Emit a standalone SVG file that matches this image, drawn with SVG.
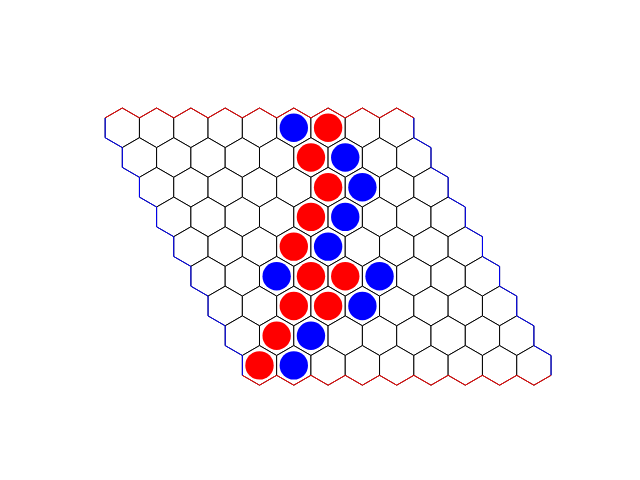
<svg xmlns="http://www.w3.org/2000/svg" xmlns:xlink="http://www.w3.org/1999/xlink" width="640" height="480" viewBox="0 0 640 480">
<style>
.hx{fill:#fff;stroke:#000;stroke-width:1}
.r{fill:#ff0000}
.b{fill:#0000ff}
.er{fill:none;stroke:#ff0000;stroke-width:1}
.eb{fill:none;stroke:#0000ff;stroke-width:1}
</style>
<defs>
<polygon id="h" class="hx" points="0,-19.8 17.15,-9.9 17.15,9.9 0,19.8 -17.15,9.9 -17.15,-9.9"/>
</defs>
<rect width="640" height="480" fill="#fff"/>
<g id="board">
<g id="row0" transform="translate(122.3,127.8)">
<g id="r0c0"><use href="#h" x="0"/></g><g id="r0c1"><use href="#h" x="34.3"/></g><g id="r0c2"><use href="#h" x="68.6"/></g><g id="r0c3"><use href="#h" x="102.9"/></g><g id="r0c4"><use href="#h" x="137.2"/></g><g id="r0c5"><use href="#h" x="171.5"/><circle class="b" cx="171.5" cy="0" r="14.2"/></g><g id="r0c6"><use href="#h" x="205.8"/><circle class="r" cx="205.8" cy="0" r="14.2"/></g><g id="r0c7"><use href="#h" x="240.1"/></g><g id="r0c8"><use href="#h" x="274.4"/></g>
</g>
<g id="row1" transform="translate(139.45,157.5)">
<g id="r1c0"><use href="#h" x="0"/></g><g id="r1c1"><use href="#h" x="34.3"/></g><g id="r1c2"><use href="#h" x="68.6"/></g><g id="r1c3"><use href="#h" x="102.9"/></g><g id="r1c4"><use href="#h" x="137.2"/></g><g id="r1c5"><use href="#h" x="171.5"/><circle class="r" cx="171.5" cy="0" r="14.2"/></g><g id="r1c6"><use href="#h" x="205.8"/><circle class="b" cx="205.8" cy="0" r="14.2"/></g><g id="r1c7"><use href="#h" x="240.1"/></g><g id="r1c8"><use href="#h" x="274.4"/></g>
</g>
<g id="row2" transform="translate(156.6,187.2)">
<g id="r2c0"><use href="#h" x="0"/></g><g id="r2c1"><use href="#h" x="34.3"/></g><g id="r2c2"><use href="#h" x="68.6"/></g><g id="r2c3"><use href="#h" x="102.9"/></g><g id="r2c4"><use href="#h" x="137.2"/></g><g id="r2c5"><use href="#h" x="171.5"/><circle class="r" cx="171.5" cy="0" r="14.2"/></g><g id="r2c6"><use href="#h" x="205.8"/><circle class="b" cx="205.8" cy="0" r="14.2"/></g><g id="r2c7"><use href="#h" x="240.1"/></g><g id="r2c8"><use href="#h" x="274.4"/></g>
</g>
<g id="row3" transform="translate(173.75,216.9)">
<g id="r3c0"><use href="#h" x="0"/></g><g id="r3c1"><use href="#h" x="34.3"/></g><g id="r3c2"><use href="#h" x="68.6"/></g><g id="r3c3"><use href="#h" x="102.9"/></g><g id="r3c4"><use href="#h" x="137.2"/><circle class="r" cx="137.2" cy="0" r="14.2"/></g><g id="r3c5"><use href="#h" x="171.5"/><circle class="b" cx="171.5" cy="0" r="14.2"/></g><g id="r3c6"><use href="#h" x="205.8"/></g><g id="r3c7"><use href="#h" x="240.1"/></g><g id="r3c8"><use href="#h" x="274.4"/></g>
</g>
<g id="row4" transform="translate(190.9,246.6)">
<g id="r4c0"><use href="#h" x="0"/></g><g id="r4c1"><use href="#h" x="34.3"/></g><g id="r4c2"><use href="#h" x="68.6"/></g><g id="r4c3"><use href="#h" x="102.9"/><circle class="r" cx="102.9" cy="0" r="14.2"/></g><g id="r4c4"><use href="#h" x="137.2"/><circle class="b" cx="137.2" cy="0" r="14.2"/></g><g id="r4c5"><use href="#h" x="171.5"/></g><g id="r4c6"><use href="#h" x="205.8"/></g><g id="r4c7"><use href="#h" x="240.1"/></g><g id="r4c8"><use href="#h" x="274.4"/></g>
</g>
<g id="row5" transform="translate(208.05,276.3)">
<g id="r5c0"><use href="#h" x="0"/></g><g id="r5c1"><use href="#h" x="34.3"/></g><g id="r5c2"><use href="#h" x="68.6"/><circle class="b" cx="68.6" cy="0" r="14.2"/></g><g id="r5c3"><use href="#h" x="102.9"/><circle class="r" cx="102.9" cy="0" r="14.2"/></g><g id="r5c4"><use href="#h" x="137.2"/><circle class="r" cx="137.2" cy="0" r="14.2"/></g><g id="r5c5"><use href="#h" x="171.5"/><circle class="b" cx="171.5" cy="0" r="14.2"/></g><g id="r5c6"><use href="#h" x="205.8"/></g><g id="r5c7"><use href="#h" x="240.1"/></g><g id="r5c8"><use href="#h" x="274.4"/></g>
</g>
<g id="row6" transform="translate(225.2,306)">
<g id="r6c0"><use href="#h" x="0"/></g><g id="r6c1"><use href="#h" x="34.3"/></g><g id="r6c2"><use href="#h" x="68.6"/><circle class="r" cx="68.6" cy="0" r="14.2"/></g><g id="r6c3"><use href="#h" x="102.9"/><circle class="r" cx="102.9" cy="0" r="14.2"/></g><g id="r6c4"><use href="#h" x="137.2"/><circle class="b" cx="137.2" cy="0" r="14.2"/></g><g id="r6c5"><use href="#h" x="171.5"/></g><g id="r6c6"><use href="#h" x="205.8"/></g><g id="r6c7"><use href="#h" x="240.1"/></g><g id="r6c8"><use href="#h" x="274.4"/></g>
</g>
<g id="row7" transform="translate(242.35,335.7)">
<g id="r7c0"><use href="#h" x="0"/></g><g id="r7c1"><use href="#h" x="34.3"/><circle class="r" cx="34.3" cy="0" r="14.2"/></g><g id="r7c2"><use href="#h" x="68.6"/><circle class="b" cx="68.6" cy="0" r="14.2"/></g><g id="r7c3"><use href="#h" x="102.9"/></g><g id="r7c4"><use href="#h" x="137.2"/></g><g id="r7c5"><use href="#h" x="171.5"/></g><g id="r7c6"><use href="#h" x="205.8"/></g><g id="r7c7"><use href="#h" x="240.1"/></g><g id="r7c8"><use href="#h" x="274.4"/></g>
</g>
<g id="row8" transform="translate(259.5,365.4)">
<g id="r8c0"><use href="#h" x="0"/><circle class="r" cx="0" cy="0" r="14.2"/></g><g id="r8c1"><use href="#h" x="34.3"/><circle class="b" cx="34.3" cy="0" r="14.2"/></g><g id="r8c2"><use href="#h" x="68.6"/></g><g id="r8c3"><use href="#h" x="102.9"/></g><g id="r8c4"><use href="#h" x="137.2"/></g><g id="r8c5"><use href="#h" x="171.5"/></g><g id="r8c6"><use href="#h" x="205.8"/></g><g id="r8c7"><use href="#h" x="240.1"/></g><g id="r8c8"><use href="#h" x="274.4"/></g>
</g>
</g>
<g id="edges">
<polyline class="er" points="105.15,117.9 122.3,108 139.45,117.9 156.6,108 173.75,117.9 190.9,108 208.05,117.9 225.2,108 242.35,117.9 259.5,108 276.65,117.9 293.8,108 310.95,117.9 328.1,108 345.25,117.9 362.4,108 379.55,117.9 396.7,108 413.85,117.9"/>
<polyline class="er" points="242.35,375.3 259.5,385.2 276.65,375.3 293.8,385.2 310.95,375.3 328.1,385.2 345.25,375.3 362.4,385.2 379.55,375.3 396.7,385.2 413.85,375.3 431,385.2 448.15,375.3 465.3,385.2 482.45,375.3 499.6,385.2 516.75,375.3 533.9,385.2 551.05,375.3"/>
<polyline class="eb" points="105.15,117.9 105.15,137.7 122.3,147.6 122.3,167.4 139.45,177.3 139.45,197.1 156.6,207 156.6,226.8 173.75,236.7 173.75,256.5 190.9,266.4 190.9,286.2 208.05,296.1 208.05,315.9 225.2,325.8 225.2,345.6 242.35,355.5 242.35,375.3"/>
<polyline class="eb" points="413.85,117.9 413.85,137.7 431,147.6 431,167.4 448.15,177.3 448.15,197.1 465.3,207 465.3,226.8 482.45,236.7 482.45,256.5 499.6,266.4 499.6,286.2 516.75,296.1 516.75,315.9 533.9,325.8 533.9,345.6 551.05,355.5 551.05,375.3"/>
</g>
</svg>
